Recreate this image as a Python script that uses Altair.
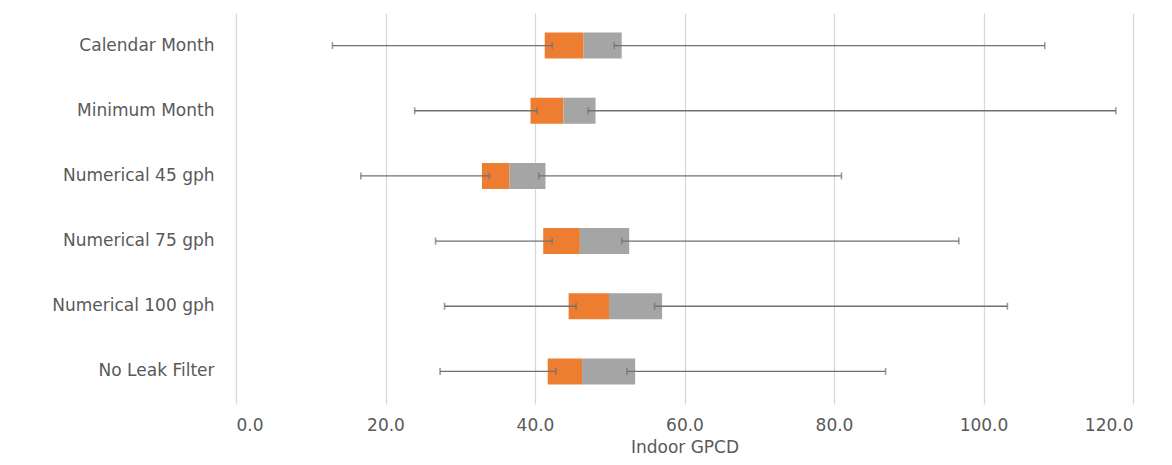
import altair as alt
import pandas as pd

categories = ["Calendar Month", "Minimum Month", "Numerical 45 gph",
              "Numerical 75 gph", "Numerical 100 gph", "No Leak Filter"]
min_vals = [12.9, 23.9, 16.7, 26.7, 27.9, 27.3]
q1_vals = [41.3, 39.4, 32.9, 41.1, 44.5, 41.7]
median_vals = [46.5, 43.8, 36.6, 46.0, 49.9, 46.3]
q3_vals = [51.6, 48.1, 41.4, 52.6, 57.0, 53.4]
lo_cap_vals = [42.3, 40.3, 33.9, 42.3, 45.5, 42.8]
hi_cap_vals = [50.6, 47.1, 40.5, 51.6, 56.0, 52.3]
max_vals = [108.2, 117.7, 81.0, 96.7, 103.2, 86.9]

df = pd.DataFrame({
    "cat": categories, "min": min_vals, "q1": q1_vals, "med": median_vals,
    "q3": q3_vals, "locap": lo_cap_vals, "hicap": hi_cap_vals, "max": max_vals,
})

FONT = "DejaVu Sans"
TXT = "#595959"
WHISK = "#707070"

x_scale = alt.Scale(domain=[0, 120], nice=False, zero=True)
y_enc = alt.Y("cat:N", sort=categories, title=None,
              scale=alt.Scale(paddingInner=0.6, paddingOuter=0.3),
              axis=alt.Axis(labelFont=FONT, labelFontSize=17, labelColor=TXT,
                            labelPadding=22, ticks=False, domain=False,
                            grid=False, labelLimit=300))
x_axis = alt.Axis(values=[0, 20, 40, 60, 80, 100, 120], format=".1f",
                  labelFont=FONT, labelFontSize=17, labelColor=TXT,
                  labelPadding=13, ticks=False, domain=False, grid=True,
                  gridColor="#D9D9D9", gridWidth=1.3,
                  titleFont=FONT, titleFontSize=17, titleColor=TXT,
                  titleFontWeight="normal", titlePadding=6)

base = alt.Chart(df)

orange = base.mark_bar(color="#ED7D31", size=26).encode(
    x=alt.X("q1:Q", scale=x_scale, axis=x_axis, title="Indoor GPCD"),
    x2="med:Q", y=y_enc)
gray = base.mark_bar(color="#A5A5A5", size=26).encode(
    x=alt.X("med:Q", scale=x_scale), x2="q3:Q", y=alt.Y("cat:N", sort=categories))

left_w = base.mark_rule(color=WHISK, strokeWidth=1.4).encode(
    x=alt.X("min:Q", scale=x_scale), x2="locap:Q", y=alt.Y("cat:N", sort=categories))
right_w = base.mark_rule(color=WHISK, strokeWidth=1.4).encode(
    x=alt.X("hicap:Q", scale=x_scale), x2="max:Q", y=alt.Y("cat:N", sort=categories))

caps = base.transform_fold(["min", "locap", "hicap", "max"], as_=["k", "v"]).mark_tick(
    color=WHISK, orient="vertical", size=7, thickness=1.6).encode(
    x=alt.X("v:Q", scale=x_scale), y=alt.Y("cat:N", sort=categories))

chart = alt.layer(orange, gray, left_w, right_w, caps).properties(
    width=897, height=391,
    autosize=alt.AutoSizeParams(type="none"),
    padding={"left": 228, "top": 5, "right": 20, "bottom": 60},
    background="white",
).configure_view(stroke=None)

chart.save("out.html", embed_options={"renderer": "svg", "actions": False})
